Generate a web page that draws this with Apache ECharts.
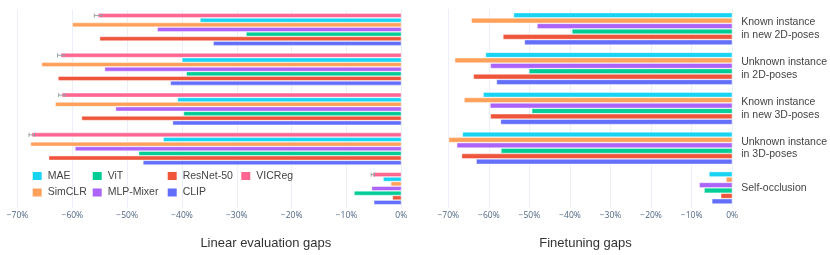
<!DOCTYPE html>
<html><head><meta charset="utf-8">
<script src="https://cdn.jsdelivr.net/npm/echarts@6/dist/echarts.min.js"></script>
<style>html,body{margin:0;padding:0;background:#fff}#c{width:830px;height:255px}</style>
</head><body><div id="c"></div>
<script>
// ---- data ----
const categories = ['Known instance\nin new 2D-poses', 'Unknown instance\nin 2D-poses', 'Known instance\nin new 3D-poses', 'Unknown instance\nin 3D-poses', 'Self-occlusion'];
const xMin = -70, xMax = 0, xStep = 10;

// Linear evaluation gaps (%)
const linVICReg    = [-55.3, -62.1, -61.9, -67.4, -5.2];
const linVICRegErr = [0.7, 0.6, 0.6, 0.5, 0.3];
const linMAE       = [-36.7, -40.0, -40.8, -43.4, -3.3];
const linSimCLR    = [-60.0, -65.6, -63.1, -67.6, -1.9];
const linMLPMixer  = [-44.5, -54.1, -52.1, -59.5, -5.4];
const linViT       = [-28.3, -39.2, -39.7, -47.9, -8.6];
const linResNet50  = [-55.0, -62.6, -58.3, -64.3, -1.6];
const linCLIP      = [-34.3, -42.1, -41.7, -47.1, -5.0];

// Finetuning gaps (%)
const ftMAE      = [-53.9, -60.8, -61.4, -66.5, -5.7];
const ftSimCLR   = [-64.3, -68.4, -66.1, -69.9, -1.5];
const ftMLPMixer = [-48.1, -59.6, -59.7, -67.9, -8.1];
const ftViT      = [-39.5, -50.1, -49.4, -57.0, -6.9];
const ftResNet50 = [-56.5, -63.8, -59.6, -66.7, -2.8];
const ftCLIP     = [-51.2, -58.1, -57.1, -63.1, -5.0];

const titles = ['Linear evaluation gaps', 'Finetuning gaps'];

// ---- styles ----
const colors = {
  'MAE': '#19d3f3', 'SimCLR': '#FFA15A', 'ViT': '#00cc96', 'MLP-Mixer': '#ab63fa',
  'ResNet-50': '#EF553B', 'CLIP': '#636efa', 'VICReg': '#FF6692'
};
const CAT_GAP = 0.19, BAR_GAP = 0.06;

function fmt(v) { return (v < 0 ? '\u2212' + Math.abs(v) : v) + '%'; }

function xAxis(gi) {
  return {
    type: 'value', gridIndex: gi, min: xMin, max: xMax, interval: xStep,
    axisLine: { show: false }, axisTick: { show: false },
    splitLine: { show: true, lineStyle: { color: '#EBF0F8', width: 1 } },
    axisLabel: { fontSize: 8.5, color: '#506784', fontFamily: 'Open Sans', margin: 3, formatter: fmt }
  };
}
function yAxis(gi, showLabels) {
  return {
    type: 'category', gridIndex: gi, data: categories, inverse: true,
    position: showLabels ? 'right' : 'left',
    axisLine: { show: false }, axisTick: { show: false }, splitLine: { show: false },
    axisLabel: showLabels ? { show: true, align: 'left', margin: 9, fontSize: 10.5, lineHeight: 12.7, color: '#444', fontFamily: 'Liberation Sans' } : { show: false }
  };
}
function bar(name, data, gi) {
  return {
    type: 'bar', name: name, data: data, xAxisIndex: gi, yAxisIndex: gi,
    barCategoryGap: (CAT_GAP * 100) + '%', barGap: (BAR_GAP * 100) + '%',
    itemStyle: { color: colors[name], borderColor: '#fff', borderWidth: 0.4 },
    emphasis: { disabled: true }, animation: false
  };
}

const leftSeries = [
  bar('VICReg', linVICReg, 0), bar('MAE', linMAE, 0), bar('SimCLR', linSimCLR, 0),
  bar('MLP-Mixer', linMLPMixer, 0), bar('ViT', linViT, 0), bar('ResNet-50', linResNet50, 0), bar('CLIP', linCLIP, 0)
];
const rightSeries = [
  bar('MAE', ftMAE, 1), bar('SimCLR', ftSimCLR, 1), bar('MLP-Mixer', ftMLPMixer, 1),
  bar('ViT', ftViT, 1), bar('ResNet-50', ftResNet50, 1), bar('CLIP', ftCLIP, 1)
];

const errSeries = {
  type: 'custom', name: 'VICReg error', xAxisIndex: 0, yAxisIndex: 0, silent: true, z: 5, animation: false,
  data: linVICReg.map((v, i) => [v, i, linVICRegErr[i]]),
  encode: { x: 0, y: 1 },
  renderItem: function (params, api) {
    const v = api.value(0), ci = api.value(1), e = api.value(2);
    const c = api.coord([v, ci]);
    const band = api.size([0, 1])[1];
    const total = band * (1 - CAT_GAP);
    const n = 7;
    const w = total / (n + (n - 1) * BAR_GAP);
    const y = c[1] - total / 2 + w / 2;
    const x1 = api.coord([v - e, ci])[0], x2 = api.coord([v + e, ci])[0];
    const st = { stroke: '#9aa0a8', lineWidth: 1 };
    return { type: 'group', children: [
      { type: 'line', shape: { x1: x1, y1: y, x2: x2, y2: y }, style: st },
      { type: 'line', shape: { x1: x1, y1: y - 2, x2: x1, y2: y + 2 }, style: st },
      { type: 'line', shape: { x1: x2, y1: y - 2, x2: x2, y2: y + 2 }, style: st }
    ]};
  }
};

function legend(names, left) {
  return {
    orient: 'vertical', left: left, top: 170, padding: 0, data: names, icon: 'rect',
    itemWidth: 11, itemHeight: 10, itemGap: 4.5,
    textStyle: { fontSize: 10.5, color: '#444', fontFamily: 'Liberation Sans' },
    selectedMode: false
  };
}

const chart = echarts.init(document.getElementById('c'), null, { renderer: 'canvas' });
chart.setOption({
  animation: false,
  grid: [
    { left: 17.5, right: 830 - 401.3, top: 9.6, height: 198.8, containLabel: false },
    { left: 448.3, right: 830 - 735.7, top: 8.9, height: 198.8, containLabel: false }
  ],
  xAxis: [xAxis(0), xAxis(1)],
  yAxis: [yAxis(0, false), yAxis(1, true)],
  legend: [
    legend(['MAE', 'SimCLR'], 30.7),
    legend(['ViT', 'MLP-Mixer'], 90.7),
    legend(['ResNet-50', 'CLIP'], 165.7),
    legend(['VICReg'], 239.3)
  ],
  graphic: [
    { type: 'text', x: 265.8, y: 243.3, style: { text: titles[0], fontSize: 13, fill: '#333', fontFamily: 'Liberation Sans', align: 'center', verticalAlign: 'middle' } },
    { type: 'text', x: 585.5, y: 243.3, style: { text: titles[1], fontSize: 13, fill: '#333', fontFamily: 'Liberation Sans', align: 'center', verticalAlign: 'middle' } }
  ],
  series: leftSeries.concat(rightSeries, [errSeries])
});
</script>
</body></html>
